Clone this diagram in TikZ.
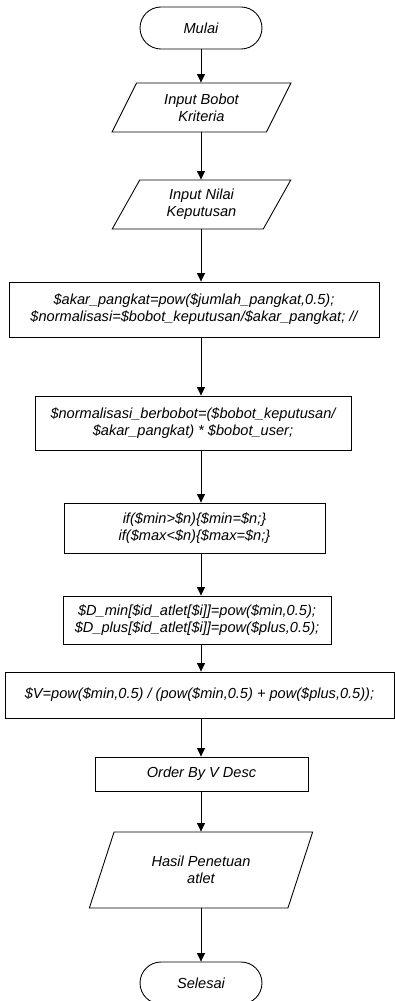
\documentclass[tikz,border=0pt]{standalone}
\usepackage{fontspec}
\setmainfont{Liberation Sans}
\usetikzlibrary{arrows.meta,shapes.geometric,shapes.misc}

\begin{document}
\begin{tikzpicture}[
  x=0.02cm, y=-0.02cm,
  font=\fontsize{8.3}{9.6}\selectfont\itshape,
  flowLine/.style={line width=0.5pt, draw=black},
  termNode/.style={rounded rectangle, flowLine, minimum width=2.44cm, minimum height=0.84cm, inner sep=0pt},
  ioNode/.style={trapezium, trapezium left angle=63, trapezium right angle=117, trapezium stretches=true, flowLine, align=center, inner sep=0pt},
  procNode/.style={rectangle, flowLine, align=center, inner sep=0pt},
  arrow/.style={-{Triangle[length=1.7mm, width=1.6mm]}, flowLine}
]
\useasboundingbox (0,0) rectangle (395,1001);

\node[termNode] (mulai) at (201,28) {Mulai};
\node[ioNode, minimum width=3.58cm, minimum height=0.98cm] (inBobot) at (201.5,107.5) {Input Bobot\\Kriteria};
\node[ioNode, minimum width=3.58cm, minimum height=0.98cm] (inNilai) at (201.5,204.5) {Input Nilai\\Keputusan};

\node[procNode, minimum width=7.4cm, minimum height=1.1cm] (akarPangkat) at (194,309.5)
  {\$akar\_pangkat=pow(\$jumlah\_pangkat,0.5);\\
   \$normalisasi=\$bobot\_keputusan/\$akar\_pangkat; //};
\node[procNode, minimum width=6.32cm, minimum height=1.08cm] (normBobot) at (193,423)
  {\$normalisasi\_berbobot=(\$bobot\_keputusan/\\
   \$akar\_pangkat) * \$bobot\_user;};
\node[procNode, minimum width=5.22cm, minimum height=1.0cm] (minMax) at (194.5,528)
  {if(\$min>\$n)\{\$min=\$n;\}\\
   if(\$max<\$n)\{\$max=\$n;\}};
\node[procNode, minimum width=5.36cm, minimum height=0.96cm] (jarak) at (197,620)
  {\$D\_min[\$id\_atlet[\$i]]=pow(\$min,0.5);\\
   \$D\_plus[\$id\_atlet[\$i]]=pow(\$plus,0.5);};
\node[procNode, minimum width=7.78cm, minimum height=0.92cm] (nilaiV) at (199.5,695)
  {\$V=pow(\$min,0.5) / (pow(\$min,0.5) + pow(\$plus,0.5));};
\node[procNode, minimum width=4.26cm, minimum height=0.68cm] (urut) at (201.5,774) {Order By V Desc};

\node[ioNode, minimum width=4.48cm, minimum height=1.52cm] (hasil) at (201,870) {Hasil Penetuan\\atlet};
\node[termNode] (selesai) at (201,983) {Selesai};

\draw[arrow] (mulai.south) -- (inBobot.north -| mulai);
\draw[arrow] (inBobot.south -| mulai) -- (inNilai.north -| mulai);
\draw[arrow] (inNilai.south -| mulai) -- (akarPangkat.north -| mulai);
\draw[arrow] (akarPangkat.south -| mulai) -- (normBobot.north -| mulai);
\draw[arrow] (normBobot.south -| mulai) -- (minMax.north -| mulai);
\draw[arrow] (minMax.south -| mulai) -- (jarak.north -| mulai);
\draw[arrow] (jarak.south -| mulai) -- (nilaiV.north -| mulai);
\draw[arrow] (nilaiV.south -| mulai) -- (urut.north -| mulai);
\draw[arrow] (urut.south -| mulai) -- (hasil.north -| mulai);
\draw[arrow] (hasil.south -| mulai) -- (selesai.north);
\end{tikzpicture}
\end{document}
